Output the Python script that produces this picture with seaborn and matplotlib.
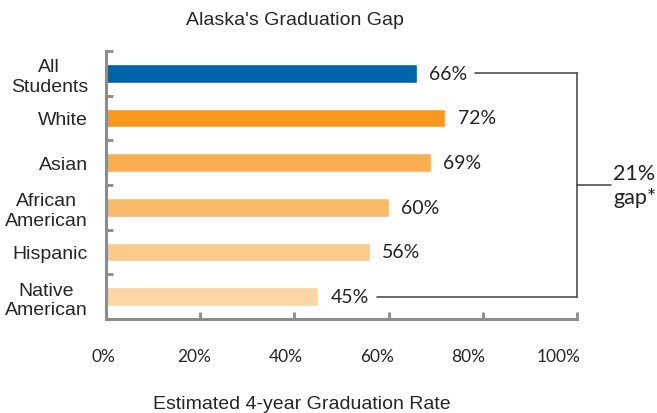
import pandas as pd
import matplotlib.pyplot as plt
import matplotlib.transforms as mtransforms
import seaborn as sns

# Data
groups = ["All\nStudents", "White", "Asian", "African\nAmerican", "Hispanic", "Native\nAmerican"]
rates = [66, 72, 69, 60, 56, 45]
colors = ["#0064A8", "#F7991F", "#F9AF4F", "#F9BB6B", "#FBCA8B", "#FCD6A2"]
x_ticks = [0, 20, 40, 60, 80, 100]
gap_text = "21%\ngap*"

df = pd.DataFrame({"group": groups, "rate": rates})

sns.set_theme(style="white")
plt.rcParams["font.family"] = ["Liberation Sans", "DejaVu Sans"]

fig = plt.figure(figsize=(6.57, 4.14), dpi=100)
ax = fig.add_axes([0.1613, 0.2271, 0.7169, 0.6473])

sns.barplot(data=df, x="rate", y="group", hue="group", palette=colors,
            orient="h", width=0.42, legend=False, ax=ax, saturation=1)

gray = "#8C8C8C"
ax.set_xlim(0, 100)
ax.set_ylim(5.5, -0.5)
ax.set_xticks(x_ticks)
ax.set_xticklabels([f"{t}%" for t in x_ticks], family="Lato", fontsize=12.5)
ax.tick_params(axis="x", bottom=True, direction="in", length=5, width=2, color=gray, pad=21)
# Excel drew the percent labels slightly left of their ticks
for i, lab in enumerate(ax.get_xticklabels()):
    shift = -(2.5 + 3.1 * i) / 100
    lab.set_transform(lab.get_transform() +
                      mtransforms.ScaledTranslation(shift, 0, fig.dpi_scale_trans))

ax.set_yticks(range(len(groups)))
ax.set_yticklabels(groups, fontsize=14, multialignment="center")
ax.tick_params(axis="y", which="major", left=False, length=0, pad=13)
ax.set_yticks([i - 0.5 for i in range(len(groups))], minor=True)
ax.tick_params(axis="y", which="minor", left=True, direction="in", length=5, width=2, color=gray)

for side in ["top", "right"]:
    ax.spines[side].set_visible(False)
for side in ["left", "bottom"]:
    ax.spines[side].set_color(gray)
    ax.spines[side].set_linewidth(2.2)

ax.set_xlabel("Estimated 4-year Graduation Rate", fontsize=14)
ax.xaxis.set_label_coords(0.416, -0.283)
ax.set_ylabel("")
ax.set_title("Alaska's Graduation Gap", fontsize=14, x=0.401, y=1.10, pad=0)

labels = []
for container in ax.containers:
    labels += ax.bar_label(container, fmt="%d%%", padding=9, family="Lato", fontsize=14,
                           color="#222222")

# bracket showing the gap between All Students and Native American
fig.canvas.draw()
inv = ax.transData.inverted()
renderer = fig.canvas.get_renderer()
lc = "#404040"
for idx in [0, len(groups) - 1]:
    bb = labels[idx].get_window_extent(renderer)
    x_start = inv.transform((bb.x1 + 8, 0))[0]
    ax.plot([x_start, 100], [idx, idx], color=lc, lw=1.1, clip_on=False)
ax.plot([100, 100], [0, len(groups) - 1], color=lc, lw=1.1, clip_on=False)
mid = (len(groups) - 1) / 2
ax.plot([100, 107.2], [mid, mid], color=lc, lw=1.1, clip_on=False)
ax.text(107.7, mid, gap_text, family="Lato", fontsize=15.5, va="center", ha="left",
        color="#222222", linespacing=1.2)

fig.savefig("out.png", dpi=100)
